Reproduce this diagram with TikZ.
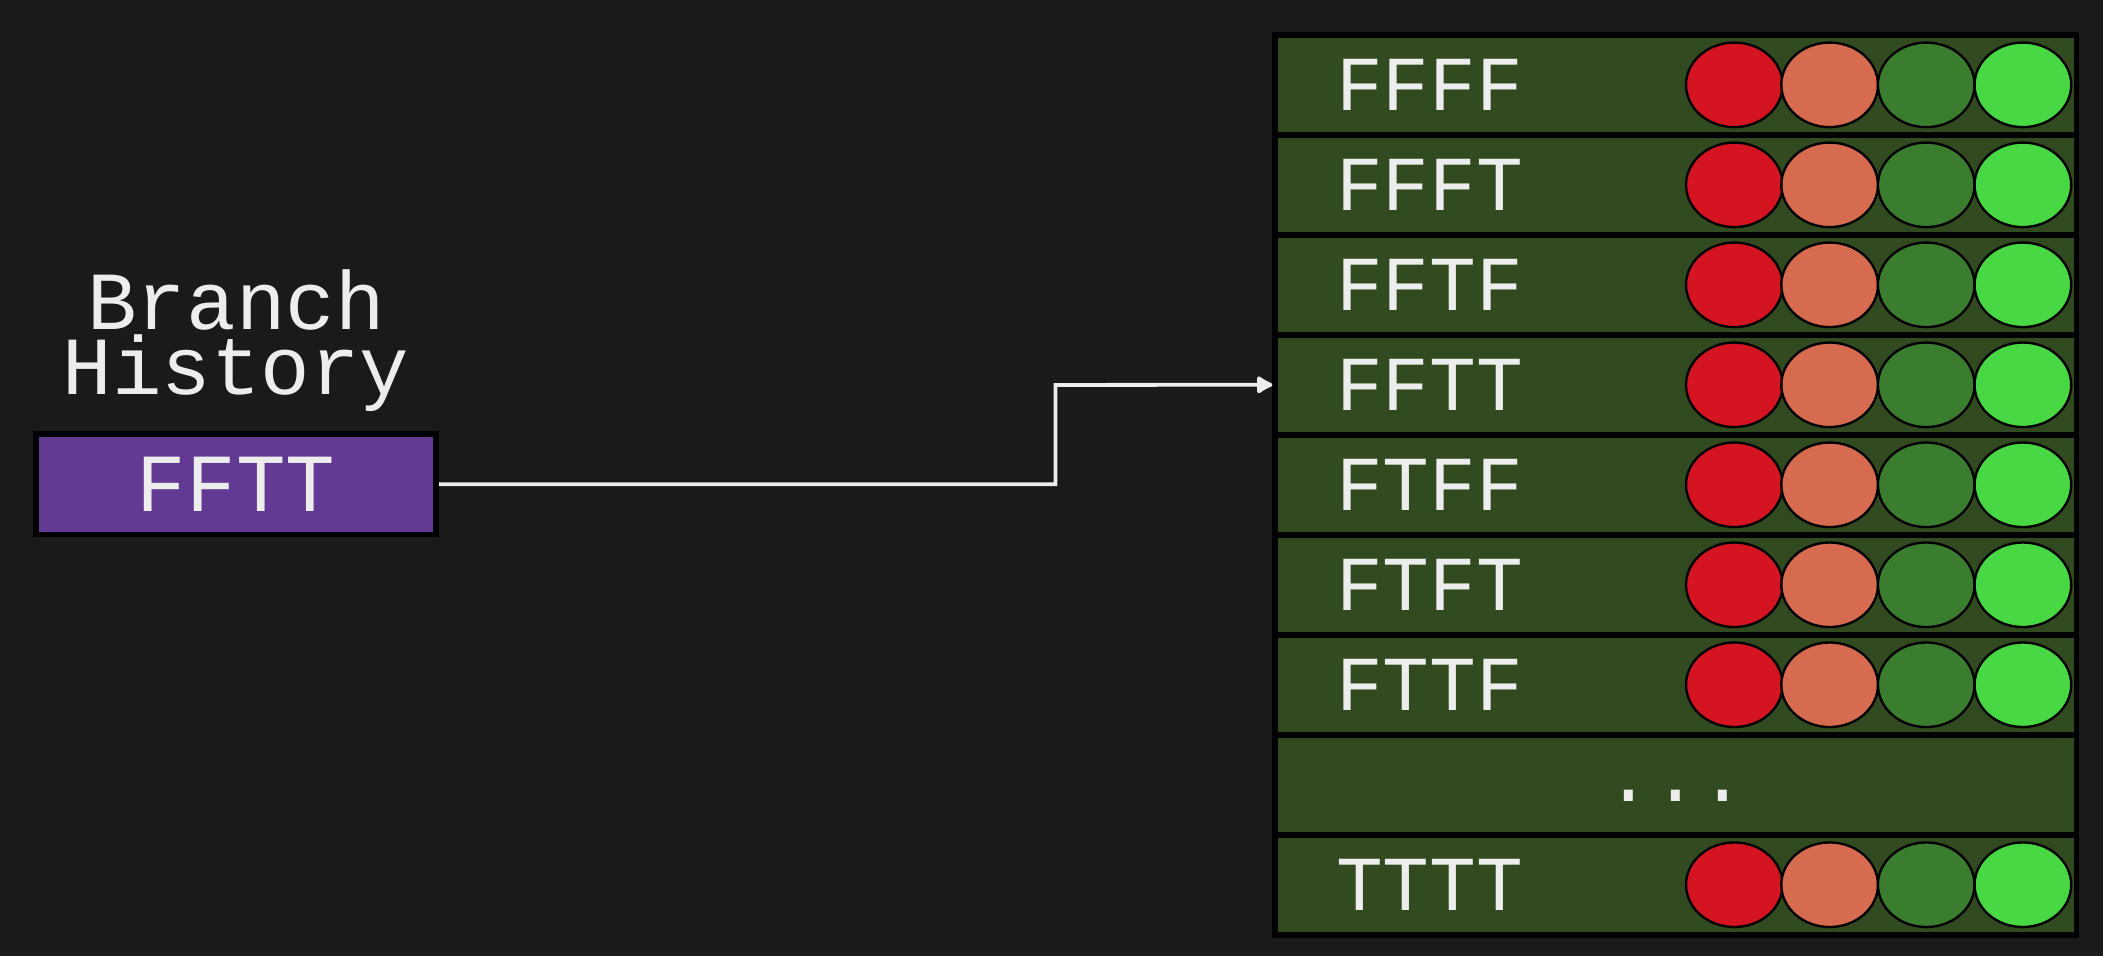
\documentclass[tikz,border=0pt]{standalone}
\usepackage{fontspec}
\setmonofont{Liberation Mono}
\usetikzlibrary{arrows.meta,positioning,shapes.geometric}
\definecolor{bgdark}{HTML}{1A1A1A}
\definecolor{rowgreen}{HTML}{314A1F}
\definecolor{histpurple}{HTML}{633A93}
\definecolor{cred}{HTML}{D41421}
\definecolor{csalmon}{HTML}{D66B50}
\definecolor{cdark}{HTML}{3B7D2F}
\definecolor{clight}{HTML}{48D843}
\begin{document}
\begin{tikzpicture}[
        x=0.01cm, y=-0.01cm,
        row/.style={rectangle, draw=black, line width=1.2pt, fill=rowgreen, minimum width=5.97cm, minimum height=0.7455cm, inner sep=0pt},
        lbl/.style={text=white!93!black, font=\ttfamily\fontsize{16.5}{16.5}\selectfont, anchor=west},
        dot/.style={ellipse, draw=black, line width=0.5pt, minimum width=0.72cm, minimum height=0.63cm, inner sep=0pt},
        arrow/.style={-{Latex[length=1.4mm,width=1.6mm,round]}, thick, draw=white!93!black}
    ]
        \useasboundingbox[fill=bgdark] (0,0) rectangle (1568,713);
        % history label and register
        \node[text=white!93!black, font=\ttfamily\fontsize{17.5}{13.7}\selectfont, align=center] (title) at (176,254) {Branch\\History};
        \node[rectangle, draw=black, line width=1.2pt, fill=histpurple, minimum width=2.98cm, minimum height=0.75cm, text=white!93!black, font=\ttfamily\fontsize{17.5}{17.5}\selectfont] (hist) at (176,361) {FFTT};
        % pattern table
        \foreach \name/\i in {FFFF/0,FFFT/1,FFTF/2,FFTT/3,FTFF/4,FTFT/5,FTTF/6,dots/7,TTTT/8} {
            \node[row] (r\name) at (1249.5,{26+74.55*(\i+0.5)}) {};
        }
        \foreach \name in {FFFF,FFFT,FFTF,FFTT,FTFF,FTFT,FTTF,TTTT} {
            \node[lbl] at ([xshift=0.35cm]r\name.west) {\name};
            \node[dot, fill=cred] at ([xshift=-2.57cm]r\name.east) {};
            \node[dot, fill=csalmon] at ([xshift=-1.86cm]r\name.east) {};
            \node[dot, fill=cdark] at ([xshift=-1.14cm]r\name.east) {};
            \node[dot, fill=clight] at ([xshift=-0.42cm]r\name.east) {};
        }
        \node[text=white!93!black, font=\ttfamily\fontsize{16.5}{16.5}\selectfont] at ([xshift=0cm,yshift=-0.08cm]rdots.center) {...};
        \draw[arrow] (hist.east) -| (787,287) -- (rFFTT.west);
    \end{tikzpicture}
\end{document}
